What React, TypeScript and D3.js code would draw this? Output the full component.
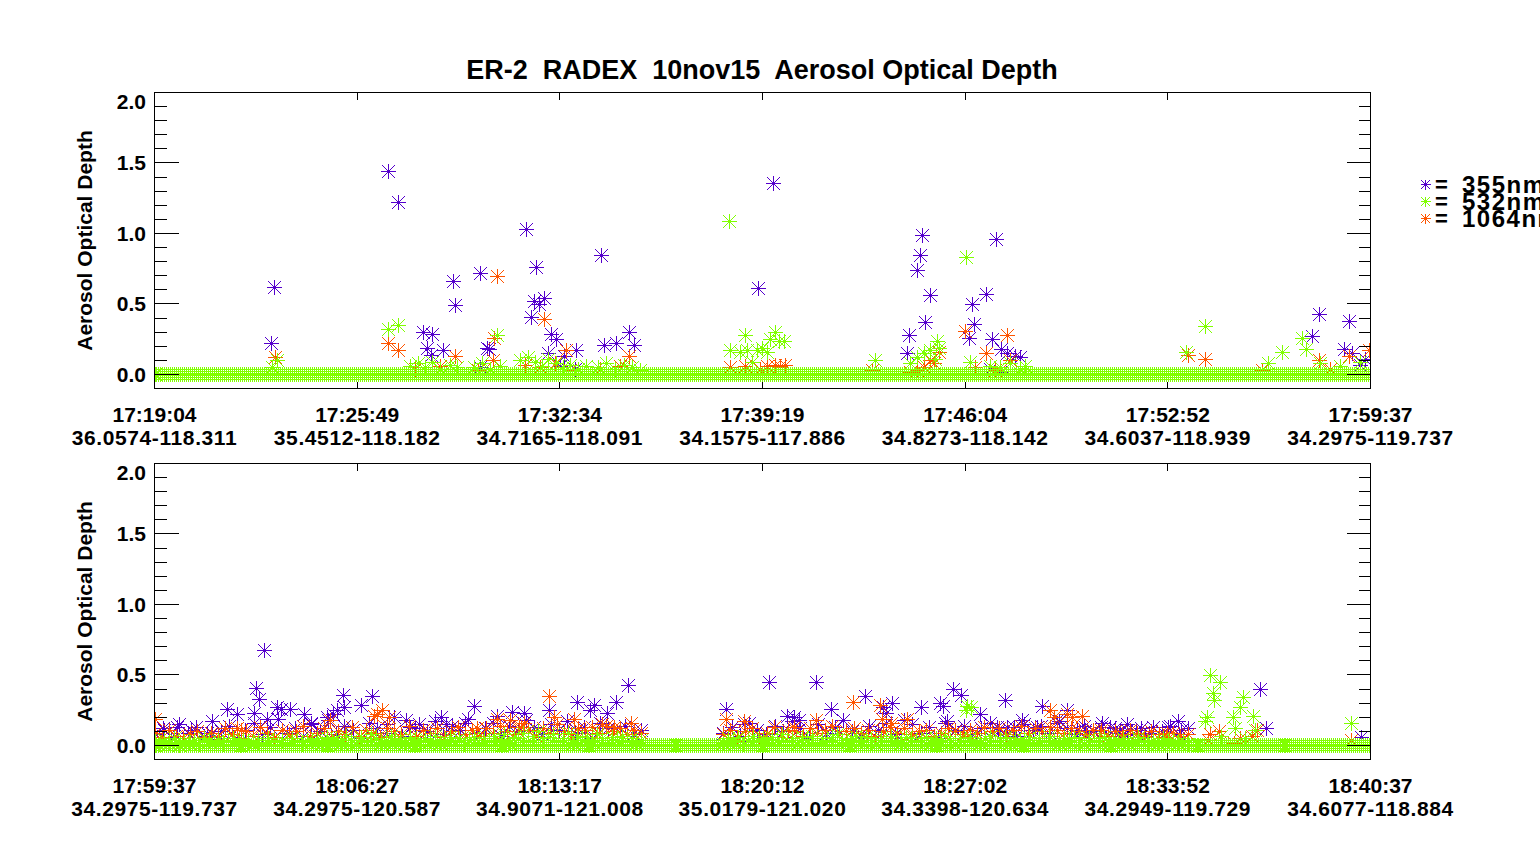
import { useEffect, useRef } from "react";
import * as d3 from "d3";

const title = "ER-2  RADEX  10nov15  Aerosol Optical Depth";
const yTitle = "Aerosol Optical Depth";
const yTickValues = [0, 0.5, 1.0, 1.5, 2.0];
const yTickLabels = ["0.0", "0.5", "1.0", "1.5", "2.0"];
const legendLabels = ["355nm", "532nm", "1064nm"];
const seriesColors = ["#5500cc", "#80ff00", "#ff5500"];

const p1Times = ["17:19:04", "17:25:49", "17:32:34", "17:39:19", "17:46:04", "17:52:52", "17:59:37"];
const p1Coords = ["36.0574-118.311", "35.4512-118.182", "34.7165-118.091", "34.1575-117.886", "34.8273-118.142", "34.6037-118.939", "34.2975-119.737"];
const p2Times = ["17:59:37", "18:06:27", "18:13:17", "18:20:12", "18:27:02", "18:33:52", "18:40:37"];
const p2Coords = ["34.2975-119.737", "34.2975-120.587", "34.9071-121.008", "35.0179-121.020", "34.3398-120.634", "34.2949-119.729", "34.6077-118.884"];

// [seconds after panel start, AOD]
const p1Aod355 = [
  [234, 0.22], [239, 0.62], [467, 1.44], [487, 1.22], [537, 0.3], [545, 0.19], [553, 0.14], [555, 0.29], [577, 0.17],
  [597, 0.66], [601, 0.49], [651, 0.72], [652, 0.05], [665, 0.19], [669, 0.18], [744, 1.03], [754, 0.41], [759, 0.52],
  [764, 0.76], [769, 0.5], [780, 0.54], [787, 0.15], [794, 0.29], [803, 0.25], [812, 0.06], [819, 0.13], [842, 0.04],
  [844, 0.17], [893, 0.85], [899, 0.21], [924, 0.22], [949, 0.3], [959, 0.21], [1207, 0.61], [1237, 1.36], [1505, 0.15],
  [1510, 0.28], [1525, 0.74], [1531, 0.85], [1535, 0.99], [1541, 0.37], [1551, 0.56], [1629, 0.26], [1635, 0.5],
  [1639, 0.36], [1664, 0.57], [1672, 0.04], [1675, 0.25], [1684, 0.96], [1692, 0.02], [1693, 0.18], [1705, 0.15],
  [1722, 0.13], [1732, 0.12], [2315, 0.27], [2329, 0.43], [2379, 0.18], [2389, 0.38], [2395, 0.15], [2412, 0.07], [2422, 0.11],
];
const p1Aod532 = [
  [235, 0.05], [245, 0.1], [467, 0.32], [487, 0.35], [512, 0.06], [528, 0.08], [542, 0.05], [556, 0.09], [572, 0.04],
  [592, 0.07], [606, 0.05], [640, 0.05], [656, 0.08], [672, 0.04], [685, 0.28], [692, 0.06], [732, 0.1], [748, 0.12],
  [762, 0.09], [776, 0.06], [788, 0.11], [804, 0.08], [818, 0.05], [832, 0.07], [848, 0.04], [864, 0.06], [888, 0.05],
  [904, 0.08], [922, 0.04], [940, 0.07], [956, 0.05], [972, 0.03], [1149, 1.09], [1152, 0.17], [1172, 0.16], [1182, 0.28],
  [1185, 0.17], [1196, 0.09], [1205, 0.17], [1215, 0.19], [1225, 0.16], [1232, 0.25], [1242, 0.3], [1249, 0.24],
  [1259, 0.24], [1441, 0.1], [1512, 0.08], [1525, 0.12], [1539, 0.15], [1552, 0.17], [1562, 0.11], [1565, 0.24],
  [1569, 0.19], [1624, 0.83], [1632, 0.09], [1672, 0.06], [1692, 0.05], [1712, 0.08], [1732, 0.04], [1742, 0.06],
  [2064, 0.16], [2102, 0.34], [2228, 0.08], [2256, 0.16], [2295, 0.26], [2304, 0.18], [2332, 0.08], [2372, 0.06], [2412, 0.09],
];
const p1Aod1064 = [
  [242, 0.12], [467, 0.22], [487, 0.17], [522, 0.04], [572, 0.06], [601, 0.13], [648, 0.03], [677, 0.1], [679, 0.26],
  [685, 0.7], [742, 0.07], [772, 0.05], [780, 0.39], [802, 0.08], [824, 0.17], [832, 0.03], [892, 0.04], [932, 0.06],
  [949, 0.13], [1152, 0.05], [1182, 0.06], [1212, 0.04], [1225, 0.06], [1242, 0.07], [1252, 0.06], [1262, 0.07],
  [1435, 0.03], [1512, 0.02], [1525, 0.03], [1539, 0.05], [1552, 0.1], [1559, 0.08], [1569, 0.16], [1622, 0.31],
  [1642, 0.05], [1664, 0.15], [1682, 0.03], [1705, 0.28], [1712, 0.1], [2068, 0.14], [2102, 0.11], [2216, 0.03],
  [2329, 0.1], [2352, 0.04], [2389, 0.13], [2429, 0.17],
];
// stretches where 532nm reads 0.00 (one sample every 4 s)
const p1Zero532 = [[0, 2433]];

const p2Aod355 = [
  [19, 0.11], [46, 0.13], [73, 0.11], [107, 0.09], [117, 0.09], [147, 0.26], [167, 0.22], [201, 0.23], [206, 0.41],
  [211, 0.33], [221, 0.68], [228, 0.19], [247, 0.27], [256, 0.26], [274, 0.26], [302, 0.22], [316, 0.16], [349, 0.2],
  [362, 0.22], [370, 0.25], [381, 0.36], [384, 0.27], [417, 0.29], [440, 0.35], [471, 0.15], [508, 0.18], [528, 0.12],
  [579, 0.2], [589, 0.15], [628, 0.16], [646, 0.28], [692, 0.21], [724, 0.24], [747, 0.23], [798, 0.25], [854, 0.31],
  [882, 0.25], [890, 0.29], [916, 0.23], [934, 0.31], [957, 0.43], [1157, 0.26], [1192, 0.15], [1243, 0.45], [1280, 0.21],
  [1293, 0.2], [1303, 0.18], [1339, 0.45], [1368, 0.26], [1438, 0.35], [1474, 0.27], [1479, 0.23], [1492, 0.3],
  [1516, 0.18], [1550, 0.27], [1590, 0.3], [1595, 0.28], [1600, 0.16], [1616, 0.4], [1632, 0.36], [1671, 0.22],
  [1705, 0.13], [1720, 0.32], [1738, 0.13], [1754, 0.18], [1786, 0.13], [1796, 0.28], [1826, 0.16], [1846, 0.25],
  [1867, 0.11], [1883, 0.11], [1914, 0.13], [1944, 0.12], [1954, 0.11], [1968, 0.11], [1995, 0.12], [2011, 0.09],
  [2050, 0.13], [2070, 0.17], [2076, 0.11], [2236, 0.4], [2248, 0.12], [2440, 0.06],
];
const p2Aod532 = [
  [1641, 0.25], [1644, 0.28], [1651, 0.27], [2126, 0.17], [2129, 0.2], [2136, 0.5], [2142, 0.37], [2144, 0.32],
  [2155, 0.45], [2157, 0.07], [2182, 0.2], [2185, 0.12], [2195, 0.27], [2202, 0.34], [2207, 0.05], [2223, 0.21],
  [2227, 0.11], [2421, 0.16],
];
const p2Aod1064 = [
  [2, 0.19], [167, 0.12], [174, 0.11], [356, 0.18], [444, 0.21], [451, 0.22], [461, 0.25], [474, 0.2], [653, 0.12],
  [693, 0.19], [720, 0.18], [737, 0.13], [747, 0.16], [798, 0.35], [808, 0.2], [848, 0.19], [906, 0.15], [929, 0.13],
  [963, 0.16], [1157, 0.19], [1192, 0.17], [1293, 0.13], [1339, 0.18], [1413, 0.31], [1467, 0.29], [1472, 0.19],
  [1489, 0.16], [1523, 0.19], [1644, 0.06], [1811, 0.25], [1819, 0.2], [1846, 0.22], [1856, 0.2], [1877, 0.21],
  [1914, 0.11], [2049, 0.09], [2132, 0.04], [2136, 0.08], [2153, 0.1], [2183, 0.02], [2196, 0.05], [2220, 0.07],
  [2230, 0.11], [2420, 0.04],
];
const p2Zero532 = [[0, 2460]];

// busy low-level stretches of panel 2, samples evenly spaced over each stretch
const p2BusyA = [0, 985];
const p2BusyC = [1150, 2090];
const p2Busy532A = [
  0.03, 0.01, 0.04, 0.02, 0.05, 0.0, 0.03, 0.02, 0.04, 0.01, 0.05, 0.03, 0.02, 0.04, 0.01, 0.03, 0.05, 0.02, 0.04, 0.03,
  0.01, 0.04, 0.02, 0.05, 0.03, 0.0, 0.04, 0.02, 0.05, 0.03, 0.01, 0.04, 0.03, 0.05, 0.02, 0.06, 0.03, 0.05, 0.02, 0.07,
  0.04, 0.01, 0.06, 0.03, 0.08, 0.05, 0.02, 0.04, 0.07, 0.03, 0.05, 0.02, 0.06, 0.04, 0.01, 0.05, 0.03, 0.07, 0.02, 0.04,
  0.06, 0.03, 0.05, 0.01, 0.04, 0.06, 0.02, 0.05, 0.03, 0.07, 0.04, 0.08, 0.02, 0.06, 0.05, 0.09, 0.03, 0.07, 0.1, 0.04,
  0.06, 0.08, 0.03, 0.05, 0.09, 0.02, 0.07, 0.04, 0.06, 0.03, 0.08, 0.05, 0.02, 0.06, 0.04, 0.07, 0.03, 0.05, 0.02, 0.04,
];
const p2Busy532C = [
  0.02, 0.05, 0.03, 0.06, 0.01, 0.04, 0.07, 0.03, 0.05, 0.02, 0.06, 0.04, 0.08, 0.03, 0.05, 0.01, 0.06, 0.04, 0.07, 0.02,
  0.05, 0.03, 0.06, 0.08, 0.04, 0.02, 0.05, 0.07, 0.03, 0.06, 0.04, 0.01, 0.05, 0.03, 0.07, 0.04, 0.02, 0.06, 0.05, 0.03,
  0.04, 0.06, 0.02, 0.05, 0.03, 0.07, 0.04, 0.01, 0.05, 0.03, 0.06, 0.04, 0.02, 0.05, 0.07, 0.03, 0.04, 0.06, 0.02, 0.05,
  0.03, 0.04, 0.06, 0.02, 0.05, 0.03, 0.07, 0.04, 0.02, 0.05, 0.03, 0.06, 0.04, 0.01, 0.05, 0.03, 0.04, 0.06, 0.02, 0.04,
  0.03, 0.05, 0.02, 0.04, 0.06, 0.03, 0.01, 0.04, 0.02, 0.05, 0.03, 0.04, 0.02, 0.03, 0.01,
];
const p2Busy1064A = [
  0.09, 0.06, 0.11, 0.07, 0.05, 0.08, 0.1, 0.06, 0.09, 0.07, 0.12, 0.08, 0.05, 0.1, 0.07, 0.13, 0.09, 0.06, 0.11, 0.08,
  0.1, 0.14, 0.07, 0.09, 0.12, 0.06, 0.1, 0.08, 0.13, 0.07, 0.11, 0.09, 0.06, 0.12, 0.1, 0.08, 0.14, 0.07, 0.11, 0.09,
  0.12, 0.06, 0.1, 0.13, 0.08, 0.11, 0.07, 0.12, 0.09, 0.14, 0.1, 0.08, 0.13, 0.11, 0.07, 0.12, 0.09, 0.15, 0.1, 0.08,
  0.12, 0.11, 0.13, 0.09, 0.14, 0.1, 0.12, 0.08, 0.11, 0.09,
];
const p2Busy1064C = [
  0.08, 0.11, 0.06, 0.1, 0.12, 0.07, 0.09, 0.13, 0.08, 0.11, 0.1, 0.07, 0.12, 0.09, 0.11, 0.14, 0.08, 0.1, 0.12, 0.09,
  0.11, 0.07, 0.1, 0.13, 0.09, 0.12, 0.08, 0.1, 0.11, 0.07, 0.09, 0.12, 0.1, 0.08, 0.11, 0.09, 0.13, 0.1, 0.12, 0.08,
  0.11, 0.14, 0.09, 0.12, 0.1, 0.13, 0.11, 0.09, 0.12, 0.1, 0.08, 0.11, 0.09, 0.07, 0.1, 0.08, 0.11, 0.09, 0.07, 0.1,
  0.08, 0.06, 0.09, 0.07, 0.08,
];
const p2Busy355A = [
  0.08, 0.12, 0.06, 0.15, 0.09, 0.13, 0.07, 0.17, 0.1, 0.14, 0.05, 0.11, 0.16, 0.08, 0.13, 0.19, 0.09, 0.12, 0.07, 0.15,
  0.1, 0.18, 0.08, 0.14, 0.11, 0.05, 0.16, 0.12, 0.09, 0.2, 0.07, 0.13, 0.15, 0.1, 0.17, 0.08, 0.14, 0.11, 0.19, 0.09,
  0.12, 0.16, 0.07, 0.14, 0.1, 0.18, 0.13, 0.08, 0.15, 0.11, 0.17, 0.09, 0.13, 0.05, 0.16, 0.12, 0.1, 0.14, 0.08, 0.11,
];
const p2Busy355C = [
  0.09, 0.13, 0.07, 0.16, 0.11, 0.08, 0.14, 0.1, 0.17, 0.12, 0.05, 0.15, 0.09, 0.13, 0.18, 0.1, 0.07, 0.14, 0.11, 0.16,
  0.08, 0.12, 0.15, 0.09, 0.13, 0.05, 0.17, 0.11, 0.14, 0.08, 0.12, 0.16, 0.1, 0.13, 0.07, 0.15, 0.11, 0.14, 0.09, 0.17,
  0.12, 0.08, 0.14, 0.1, 0.16, 0.13, 0.09, 0.15, 0.11, 0.07, 0.13, 0.1, 0.14, 0.08, 0.12,
];

const sampleStep = 4;
const toSec = (s) => {
  const [h, m, x] = s.split(":").map(Number);
  return h * 3600 + m * 60 + x;
};
const zeros = (runs) => runs.flatMap(([a, b]) => d3.range(a, b + 0.01, sampleStep).map((t) => [t, 0]));
const spread = ([a, b], vals) => vals.map((v, i) => [a + ((b - a) * i) / (vals.length - 1), v]);

// IDL style 8-armed asterisk
const asterisk = {
  draw(ctx, size) {
    const r = Math.sqrt(size) / 2;
    const d = r * 0.87;
    ctx.moveTo(-r, 0);
    ctx.lineTo(r, 0);
    ctx.moveTo(0, -r);
    ctx.lineTo(0, r);
    ctx.moveTo(-d, -d);
    ctx.lineTo(d, d);
    ctx.moveTo(-d, d);
    ctx.lineTo(d, -d);
  },
};

const FONT = "'Liberation Sans', Arial, Helvetica, sans-serif";

const App = () => {
  const chartRef = useRef(null);

  useEffect(() => {
    const svg = d3.select(chartRef.current);
    svg.selectAll("*").remove();

    const x0 = 154.5;
    const x1 = 1370.5;
    const ph = 296;
    const markerD = d3.symbol(asterisk, 225)();
    const legendD = d3.symbol(asterisk, 100)();
    const drawColors = [seriesColors[0], seriesColors[2], seriesColors[1]];

    const panels = [
      {
        top: 92.5,
        times: p1Times,
        coords: p1Coords,
        series: [p1Aod355, p1Aod1064, [...zeros(p1Zero532), ...p1Aod532]],
      },
      {
        top: 463.5,
        times: p2Times,
        coords: p2Coords,
        series: [
          [...spread(p2BusyA, p2Busy355A), ...spread(p2BusyC, p2Busy355C), ...p2Aod355],
          [...spread(p2BusyA, p2Busy1064A), ...spread(p2BusyC, p2Busy1064C), ...p2Aod1064],
          [...zeros(p2Zero532), ...spread(p2BusyA, p2Busy532A), ...spread(p2BusyC, p2Busy532C), ...p2Aod532],
        ],
      },
    ];

    svg
      .append("text")
      .attr("x", 762)
      .attr("y", 79)
      .attr("text-anchor", "middle")
      .attr("font-family", FONT)
      .attr("font-weight", "bold")
      .attr("font-size", 27)
      .style("white-space", "pre")
      .text(title);

    panels.forEach((p, pi) => {
      const bottom = p.top + ph;
      const dur = toSec(p.times[p.times.length - 1]) - toSec(p.times[0]);
      const x = d3.scaleLinear().domain([0, dur]).range([x0, x1]);
      const y = d3.scaleLinear().domain([-0.1, 2.0]).range([bottom, p.top]);
      const g = svg.append("g");

      const clipId = `clip${pi}`;
      svg
        .append("clipPath")
        .attr("id", clipId)
        .append("rect")
        .attr("x", x0)
        .attr("y", p.top)
        .attr("width", x1 - x0)
        .attr("height", ph);

      const marks = g.append("g").attr("clip-path", `url(#${clipId})`);
      p.series.forEach((s, si) => {
        marks
          .append("g")
          .selectAll("path")
          .data(s)
          .join("path")
          .attr("d", markerD)
          .attr("transform", (d) => `translate(${Math.round(x(d[0])) + 0.5},${Math.round(y(d[1])) + 0.5})`)
          .attr("fill", "none")
          .attr("stroke", drawColors[si])
          .attr("stroke-width", 1)
          .attr("shape-rendering", "crispEdges");
      });

      // frame
      g.append("rect")
        .attr("x", x0)
        .attr("y", p.top)
        .attr("width", x1 - x0)
        .attr("height", ph)
        .attr("fill", "none")
        .attr("stroke", "#000")
        .attr("shape-rendering", "crispEdges");

      // y ticks, minor every 0.1
      const yt = d3.range(0, 21).map((i) => i / 10);
      const tickG = g.append("g").attr("stroke", "#000").attr("shape-rendering", "crispEdges");
      yt.forEach((v, i) => {
        const len = i % 5 === 0 && i < 20 ? 24 : 12;
        const yy = Math.round(y(v) - 0.5) + 0.5;
        tickG.append("line").attr("x1", x0).attr("x2", x0 + len).attr("y1", yy).attr("y2", yy);
        tickG.append("line").attr("x1", x1).attr("x2", x1 - len).attr("y1", yy).attr("y2", yy);
      });

      // x ticks
      const xt = p.times.map((_, i) => (dur * i) / (p.times.length - 1));
      xt.forEach((t) => {
        const xx = Math.round(x(t) - 0.5) + 0.5;
        tickG.append("line").attr("x1", xx).attr("x2", xx).attr("y1", bottom).attr("y2", bottom - 7);
        tickG.append("line").attr("x1", xx).attr("x2", xx).attr("y1", p.top).attr("y2", p.top + 7);
      });

      const labelG = g
        .append("g")
        .attr("font-family", FONT)
        .attr("font-weight", "bold")
        .attr("font-size", 21)
        .attr("fill", "#000");

      yTickValues.forEach((v, i) => {
        const yy = y(v) + 7.5 + (v === 2.0 ? 9 : 0);
        labelG.append("text").attr("x", 146).attr("y", yy).attr("text-anchor", "end").text(yTickLabels[i]);
      });

      xt.forEach((t, i) => {
        labelG
          .append("text")
          .attr("x", x(t))
          .attr("y", bottom + 33)
          .attr("text-anchor", "middle")
          .text(p.times[i]);
        labelG
          .append("text")
          .attr("x", x(t))
          .attr("y", bottom + 56.5)
          .attr("text-anchor", "middle")
          .attr("letter-spacing", 0.6)
          .text(p.coords[i]);
      });

      labelG
        .append("text")
        .attr("transform", `translate(92,${(p.top + bottom) / 2}) rotate(-90)`)
        .attr("text-anchor", "middle")
        .text(yTitle);
    });

    // legend
    const lg = svg.append("g").attr("font-family", FONT).attr("font-weight", "bold");
    legendLabels.forEach((lab, i) => {
      const ly = 184.5 + 17 * i;
      lg.append("path")
        .attr("d", legendD)
        .attr("transform", `translate(1425.5,${ly})`)
        .attr("fill", "none")
        .attr("stroke", seriesColors[i])
        .attr("shape-rendering", "crispEdges");
      lg.append("text").attr("x", 1435).attr("y", ly + 7).attr("font-size", 22).text("=");
      lg.append("text")
        .attr("x", 1462)
        .attr("y", ly + 8)
        .attr("font-size", 24)
        .attr("letter-spacing", 1.5)
        .text(lab);
    });
  }, []);

  return (
    <svg
      ref={chartRef}
      width={1540}
      height={845}
      style={{ position: "absolute", left: 0, top: 0, background: "#fff" }}
    ></svg>
  );
};

export default App;
